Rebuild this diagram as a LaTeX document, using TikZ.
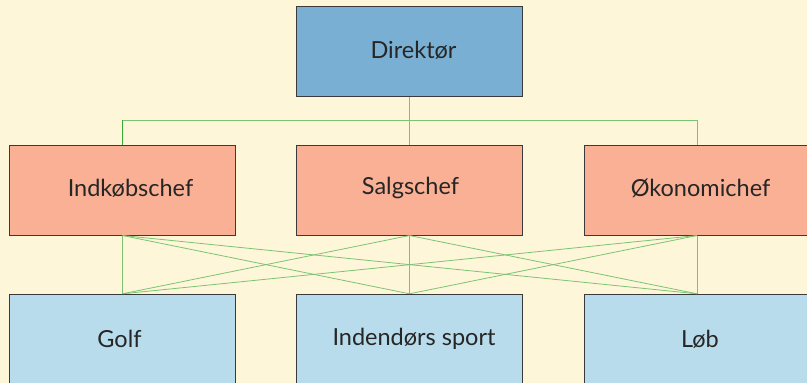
\documentclass[tikz,border=0pt]{standalone}
\usepackage{fontspec}
\setmainfont{Lato}
\definecolor{bgpaper}{HTML}{FDF6D9}
\definecolor{topblue}{HTML}{7AAFD4}
\definecolor{midsalmon}{HTML}{F9B094}
\definecolor{lowblue}{HTML}{B8DCEC}
\definecolor{edgegray}{HTML}{3A3A3A}
\definecolor{linkgreen}{HTML}{7CC473}
\definecolor{darkgreen}{HTML}{3BA935}
\begin{document}
\begin{tikzpicture}[x=1pt,y=-1pt,
  orgbox/.style={draw=edgegray,line width=1pt,minimum width=226pt,minimum height=90pt,
    inner sep=0pt},
  boxtext/.style={font=\fontsize{23.5}{28}\selectfont,text=black!85,inner sep=0pt},
  link/.style={draw=linkgreen,line width=0.8pt}]
\fill[bgpaper] (0,0) rectangle (807,383);
\useasboundingbox (0,0) rectangle (807,383);
\clip (0,0) rectangle (807,383);
% levels of the organisation, each title set a little right of centre
\node[orgbox,fill=topblue,label={[boxtext,xshift=4pt,yshift=1pt]center:Direktør}] (dir) at (409.5,51.7) {};
\node[orgbox,fill=midsalmon,label={[boxtext,xshift=8pt,yshift=2pt]center:Indkøbschef}] (ind) at (122.5,190) {};
\node[orgbox,fill=midsalmon,label={[boxtext,xshift=1pt,yshift=2pt]center:Salgschef}] (sal) at (409.5,190) {};
\node[orgbox,fill=midsalmon,label={[boxtext,xshift=3.5pt,yshift=2pt]center:Økonomichef}] (oko) at (697,190) {};
\node[orgbox,fill=lowblue,label={[boxtext,xshift=-3pt]center:Golf}] (golf) at (122.5,339.3) {};
\node[orgbox,fill=lowblue,label={[boxtext,xshift=4.5pt]center:Indendørs sport}] (inde) at (409.5,339.3) {};
\node[orgbox,fill=lowblue,label={[boxtext,xshift=3pt]center:Løb}] (lob) at (697,339.3) {};
% director to the three chiefs
\coordinate (busl) at (ind.north |- 0,120);
\coordinate (busr) at (oko.north |- 0,120);
\draw[link] (dir.south) -- (sal.north);
\draw[link] (busl) -- (busr) -- (oko.north);
\draw[draw=darkgreen,line width=1.2pt] (busl) -- (ind.north);
% every chief to every area
\foreach \m in {ind,sal,oko}
  \foreach \b in {golf,inde,lob}
    \draw[link] (\m.south) -- (\b.north);
\end{tikzpicture}
\end{document}
